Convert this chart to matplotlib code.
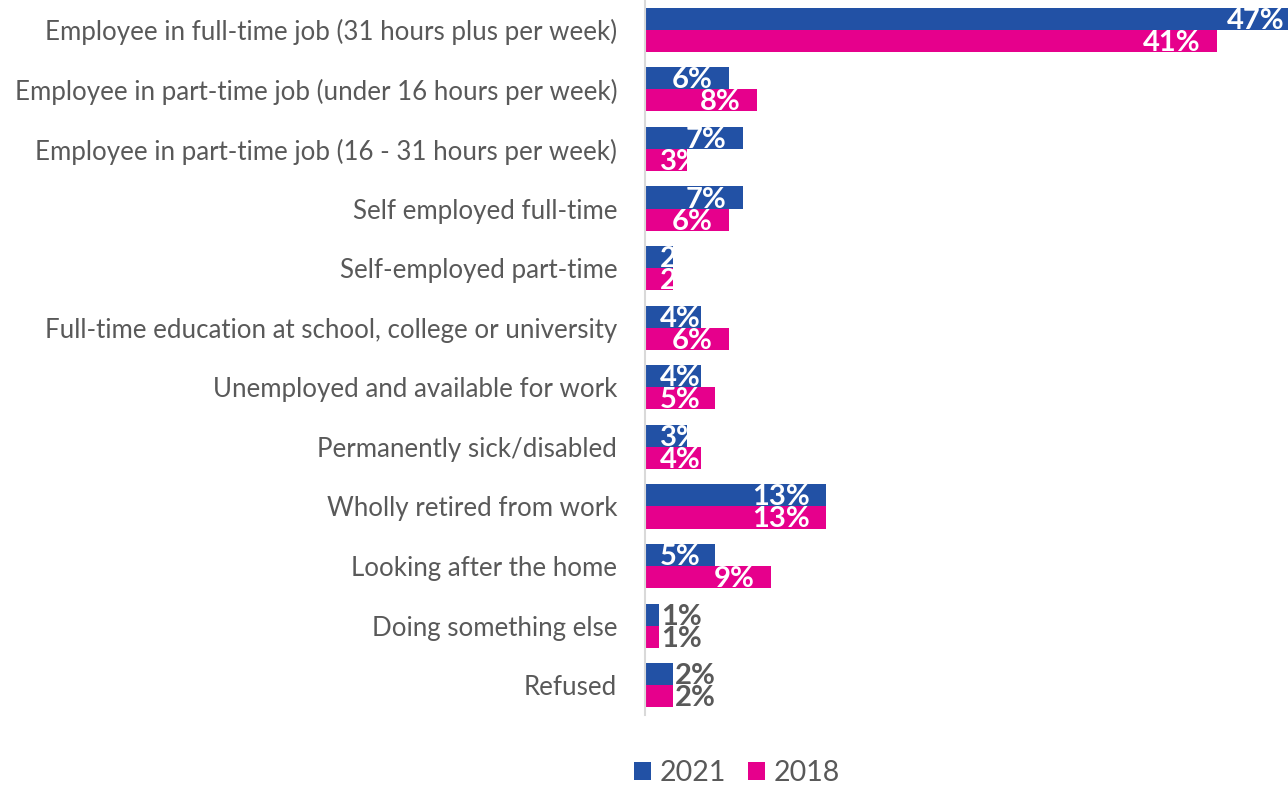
import matplotlib
matplotlib.use("Agg")
from matplotlib import pyplot as plt
from matplotlib import transforms
import numpy as np

categories = [
    "Employee in full-time job (31 hours plus per week)",
    "Employee in part-time job (under 16 hours per week)",
    "Employee in part-time job (16 - 31 hours per week)",
    "Self employed full-time",
    "Self-employed part-time",
    "Full-time education at school, college or university",
    "Unemployed and available for work",
    "Permanently sick/disabled",
    "Wholly retired from work",
    "Looking after the home",
    "Doing something else",
    "Refused",
]
values_2021 = [47, 6, 7, 7, 2, 4, 4, 3, 13, 5, 1, 2]
values_2018 = [41, 8, 3, 6, 2, 6, 5, 4, 13, 9, 1, 2]
# categories whose labels sit outside the bar end
outside_labels = ["Doing something else", "Refused"]

blue = "#2251A5"
pink = "#E6008C"
grey = "#595959"
font = "Lato"

W, H = 1288, 787
fig = plt.figure(figsize=(W / 100, H / 100), dpi=100)
ax = fig.add_axes([645 / W, 1 - 715 / H, 643 / W, 715 / H])

y = np.arange(len(categories))
h = 0.37
bars_a = ax.barh(y - h / 2, values_2021, height=h, color=blue, label="2021")
bars_b = ax.barh(y + h / 2, values_2018, height=h, color=pink, label="2018")

ax.set_xlim(0, 643 / 13.95)
ax.set_ylim(len(categories) - 0.5, -0.5)
ax.set_xticks([])
ax.set_yticks(y)
ax.set_yticklabels(categories, fontsize=18.6, color=grey, family=font)
ax.tick_params(axis="y", length=0, pad=20)
for s in ["top", "right", "bottom"]:
    ax.spines[s].set_visible(False)
ax.spines["left"].set_color("#D9D9D9")
ax.spines["left"].set_linewidth(1.5)

inside = transforms.offset_copy(ax.transData, fig, x=-16, y=-2, units="dots")
left_in = transforms.offset_copy(ax.transData, fig, x=15, y=-2, units="dots")
outside = transforms.offset_copy(ax.transData, fig, x=2, y=-2, units="dots")

fig.canvas.draw()
renderer = fig.canvas.get_renderer()
x_axis = ax.transData.transform((0, 0))[0]

for bars, vals in [(bars_a, values_2021), (bars_b, values_2018)]:
    for bar, v, cat in zip(bars, vals, categories):
        yc = bar.get_y() + bar.get_height() / 2
        if cat in outside_labels:
            ax.text(v, yc, f"{v}%", transform=outside, ha="left", va="center",
                    fontsize=21, fontweight="bold", color=grey, family=font)
            continue
        t = ax.text(v, yc, f"{v}%", transform=inside, ha="right", va="center",
                    fontsize=21, fontweight="bold", color="white", family=font)
        bb = t.get_window_extent(renderer)
        if bb.x0 < x_axis + 15:
            t.set_position((0, yc))
            t.set_transform(left_in)
            t.set_ha("left")
        t.set_clip_path(bar)

leg = fig.legend(handles=[bars_a, bars_b], loc="center", bbox_to_anchor=(737 / W, 1 - 773 / H),
                 ncol=2, frameon=False, prop={"family": font, "size": 20.5},
                 handlelength=0.6, handleheight=0.6, handletextpad=0.3, columnspacing=0.75)
for txt in leg.get_texts():
    txt.set_color(grey)

fig.savefig("out.png", dpi=100)
